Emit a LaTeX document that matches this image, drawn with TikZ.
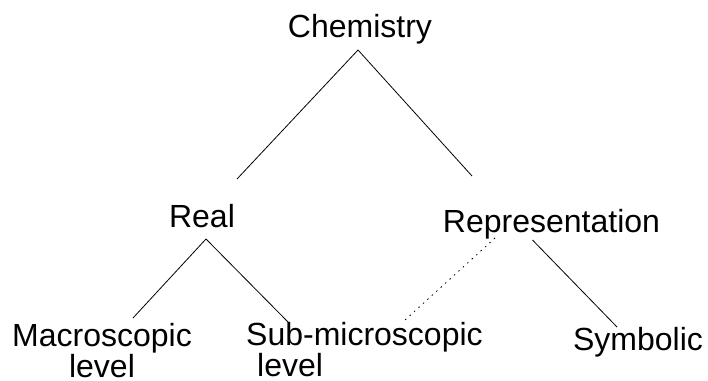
\documentclass[tikz,border=0pt]{standalone}
\usepackage{fontspec}
\setmainfont{Liberation Sans}
\begin{document}
\begin{tikzpicture}[x=1pt, y=-1pt, every node/.style={inner sep=0pt, font=\fontsize{32}{29}\selectfont}, link/.style={line width=0.8pt}, weak/.style={line width=0.8pt, dash pattern=on 1.5pt off 4.5pt}]
        \useasboundingbox (0,0) rectangle (708,380);

        % Nodes
        \node[anchor=base] (chem) at (360,37) {Chemistry};
        \node[anchor=base] (real) at (202,227) {Real};
        \node[anchor=base] (repr) at (551.5,232) {Representation};
        \node[anchor=north, align=center] (macro) at (102,323) {Macroscopic\\level};
        \node[anchor=north west, align=left] (sub) at (246,322) {Sub-microscopic\\\hspace*{11pt}level};
        \node[anchor=base] (symb) at (638,350) {Symbolic};

        % Edges
        \draw[link] ([shift={(-2,13)}]chem.base) -- ([shift={(35,-48)}]real.base);
        \draw[link] ([shift={(-2,13)}]chem.base) -- ([shift={(-79.5,-56)}]repr.base);
        \draw[link] ([shift={(4,12)}]real.base) -- ([shift={(31,-5)}]macro.north);
        \draw[link] ([shift={(4,12)}]real.base) -- ([shift={(42,0)}]sub.north west);
        \draw[weak] ([shift={(-56.5,6)}]repr.base) -- ([shift={(159,-2)}]sub.north west);
        \draw[link] ([shift={(-19,8)}]repr.base) -- ([shift={(-21,-23)}]symb.base);
    \end{tikzpicture}
\end{document}
